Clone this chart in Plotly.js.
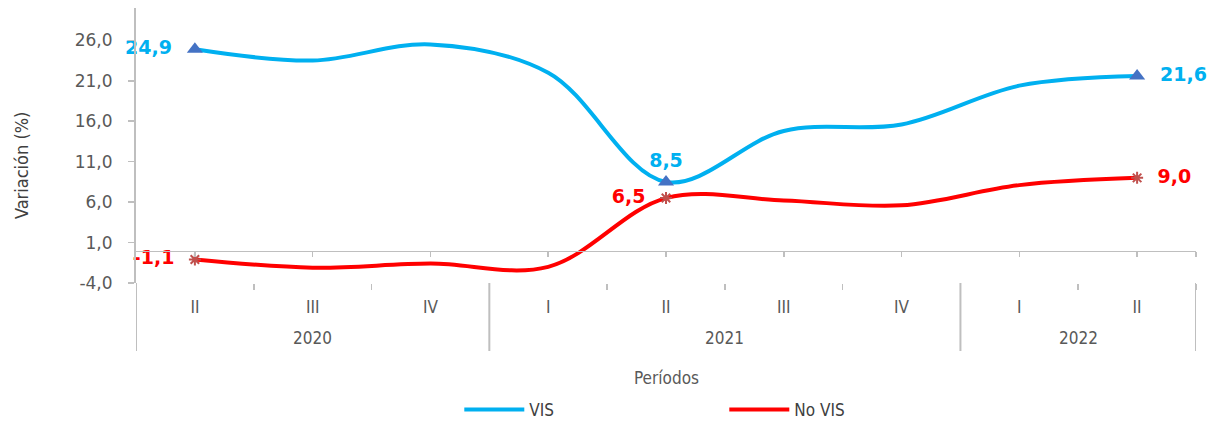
<!DOCTYPE html>
<html>
<head>
<meta charset="utf-8">
<script src="https://cdn.plot.ly/plotly-3.0.1.min.js"></script>
<style>
html,body{margin:0;padding:0;background:#fff;}
#chart{width:1226px;height:421px;}
</style>
</head>
<body>
<div id="chart"></div>
<script>
// ---- data ----
const years    = ['2020','2020','2020','2021','2021','2021','2021','2022','2022'];
const quarters = ['II','III','IV','I','II','III','IV','I','II'];
const vis      = [24.9, 23.5, 25.5, 22.0, 8.5, 14.8, 15.6, 20.4, 21.6];
const noVis    = [-1.1, -2.1, -1.6, -2.0, 6.5, 6.2, 5.6, 8.1, 9.0];
const yTicks   = [-4, 1, 6, 11, 16, 21, 26];
const labeledIdx = [0, 4, 8];
const seriesNames = ['VIS', 'No VIS'];

const visColor = '#00B0F0', noVisColor = '#FF0000';
const axisGray = '#BFBFBF';
const narrow = '"Liberation Sans Narrow", "DejaVu Sans Condensed", "Arial Narrow", sans-serif';
const wide = '"DejaVu Sans", Verdana, sans-serif';
const fmt = v => v.toFixed(1).replace('.', ',');
const NB = '\u00A0';

const idx = quarters.map((_, i) => i);
const pick = (arr) => labeledIdx.map(i => arr[i]);

// year groups derived from the data
const groups = [];
years.forEach((y, i) => {
  const g = groups[groups.length - 1];
  if (g && g.name === y) g.end = i; else groups.push({name: y, start: i, end: i});
});

const pad = (s, pos) => pos === 'middle left' ? s + NB + NB : pos === 'middle right' ? NB + NB + s : s;
const visPos = ['middle left', 'top center', 'middle right'];
const noVisPos = ['middle left', 'middle left', 'middle right'];

const traces = [
  {x: idx, y: vis, name: seriesNames[0], type: 'scatter', mode: 'lines',
   line: {color: visColor, width: 4, shape: 'spline', smoothing: 1}},
  {x: idx, y: noVis, name: seriesNames[1], type: 'scatter', mode: 'lines',
   line: {color: noVisColor, width: 4, shape: 'spline', smoothing: 1}},
  {x: pick(idx), y: pick(vis), type: 'scatter', mode: 'markers+text', showlegend: false,
   marker: {symbol: 'triangle-up', size: 14, color: '#4472C4'},
   text: pick(vis).map((v, k) => pad(fmt(v), visPos[k])), textposition: visPos,
   textfont: {family: wide, size: 19, color: visColor, weight: 'bold'}, cliponaxis: false},
  {x: pick(idx), y: pick(noVis), type: 'scatter', mode: 'markers+text', showlegend: false,
   marker: {symbol: 'asterisk-open', size: 10, color: '#C0504D', line: {color: '#C0504D', width: 2}},
   text: pick(noVis).map((v, k) => pad(fmt(v), noVisPos[k])), textposition: noVisPos,
   textfont: {family: wide, size: 19, color: noVisColor, weight: 'bold'}, cliponaxis: false},
  {x: [0, 8], y: [null, null], xaxis: 'x2', showlegend: false, hoverinfo: 'skip', mode: 'lines', type: 'scatter'},
  {x: [0, 8], y: [null, null], xaxis: 'x3', showlegend: false, hoverinfo: 'skip', mode: 'lines', type: 'scatter'}
];

const yMin = -4, yMax = 30;
const plotTop = 8, plotBottom = 283, plotLeft = 136, plotRight = 1196;
const plotH = plotBottom - plotTop, plotW = plotRight - plotLeft;
const pxToPaperY = px => (plotBottom - px) / plotH;
const pxToPaperX = px => (px - plotLeft) / plotW;
const xRange = [-0.5, quarters.length - 0.5];

const shapes = [];
groups.forEach((g, k) => {
  const bounds = k === 0 ? [g.start - 0.5, g.end + 0.5] : [g.end + 0.5];
  bounds.forEach(b => shapes.push({type: 'line', xref: 'x', yref: 'paper', x0: b, x1: b,
    y0: 0, y1: pxToPaperY(351), line: {color: axisGray, width: 2}}));
});

const annotations = groups.map(g => ({
  xref: 'x', yref: 'paper', x: (g.start + g.end) / 2, y: pxToPaperY(338), yanchor: 'middle',
  text: g.name, showarrow: false, font: {family: narrow, size: 17, color: '#595959'}
}));
annotations.push({xref: 'paper', yref: 'paper', x: 0.5, y: pxToPaperY(378), yanchor: 'middle',
  text: 'Períodos', showarrow: false, font: {family: narrow, size: 17, color: '#595959'}});
annotations.push({xref: 'paper', yref: 'paper', x: pxToPaperX(22), y: pxToPaperY(166),
  xanchor: 'center', yanchor: 'middle', textangle: -90,
  text: 'Variación (%)', showarrow: false, font: {family: narrow, size: 18, color: '#404040'}});

const layout = {
  width: 1226, height: 421,
  margin: {l: plotLeft, r: 1226 - plotRight, t: plotTop, b: 421 - plotBottom, autoexpand: false},
  paper_bgcolor: '#fff', plot_bgcolor: '#fff',
  separators: ',.',
  showlegend: true,
  legend: {orientation: 'h', x: 0.305, xanchor: 'left', y: pxToPaperY(410), yanchor: 'middle',
           font: {family: narrow, size: 17, color: '#404040'}, itemwidth: 60,
           entrywidth: 190, entrywidthmode: 'pixels'},
  xaxis: {
    range: xRange, tickvals: idx, ticktext: quarters, ticks: '', ticklabelstandoff: 12,
    showline: false, showgrid: false, zeroline: false,
    tickfont: {family: narrow, size: 17, color: '#595959'}, automargin: false, fixedrange: true
  },
  xaxis2: {
    overlaying: 'x', anchor: 'free', position: (0 - yMin) / (yMax - yMin), side: 'bottom',
    range: xRange, showgrid: false, zeroline: false, showline: true,
    linecolor: axisGray, linewidth: 1.5, ticks: 'outside', ticklen: 5, tickcolor: axisGray,
    tickwidth: 1.5, tickvals: idx.concat([xRange[1]]), showticklabels: false, fixedrange: true
  },
  xaxis3: {
    overlaying: 'x', anchor: 'free', position: 0, side: 'bottom',
    range: xRange, showgrid: false, zeroline: false, showline: false,
    ticks: 'outside', ticklen: 6, tickcolor: axisGray, tickwidth: 1.5,
    tickvals: idx.map(i => i + 0.5), showticklabels: false, fixedrange: true
  },
  yaxis: {
    range: [yMin, yMax], tickvals: yTicks, ticktext: yTicks.map(fmt),
    showgrid: false, zeroline: false, showline: true, linecolor: axisGray, linewidth: 2,
    ticks: 'outside', ticklen: 6, tickcolor: axisGray, tickwidth: 1.5, ticklabelstandoff: 12,
    tickfont: {family: wide, size: 17, color: '#595959'},
    automargin: false, fixedrange: true
  },
  shapes: shapes,
  annotations: annotations
};

Plotly.newPlot('chart', traces, layout, {displayModeBar: false, staticPlot: true});
</script>
</body>
</html>
